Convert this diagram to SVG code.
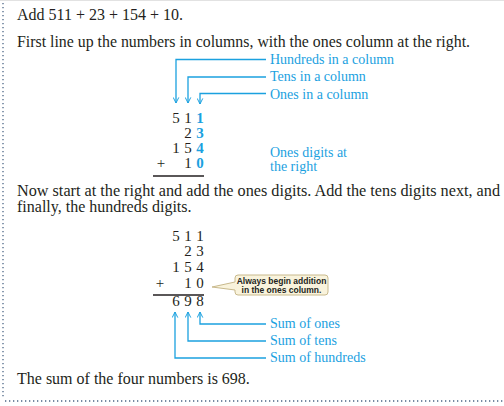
<svg xmlns="http://www.w3.org/2000/svg" width="504" height="406" viewBox="0 0 504 406">
<style>
.t{font-family:"Liberation Serif","Times New Roman",serif;font-size:16px;fill:#231f20}
.b{font-family:"Liberation Serif","Times New Roman",serif;font-size:14px;fill:#1ba1df}
.d{font-family:"Liberation Serif","Times New Roman",serif;font-size:15px;fill:#231f20;text-anchor:middle}
.db{font-family:"Liberation Serif","Times New Roman",serif;font-size:15px;fill:#1ba1df;text-anchor:middle;font-weight:bold}
.c{fill:none;stroke:#1ba1df;stroke-width:1.3}
.note{font-family:"Liberation Sans",Arial,sans-serif;font-size:8.5px;fill:#231f20;text-anchor:middle;font-weight:bold}
</style>
<defs>
<marker id="ah" viewBox="0 0 10 10" refX="9" refY="5" markerWidth="7" markerHeight="7" markerUnits="userSpaceOnUse" orient="auto">
<path d="M1,1 L9,5 L1,9" fill="none" stroke="#1ba1df" stroke-width="1.4"/>
</marker>
</defs>
<rect width="504" height="406" fill="#ffffff"/>
<line x1="0" y1="0.5" x2="504" y2="0.5" stroke="#e2e2e2" stroke-width="1"/>
<line x1="3" y1="3" x2="3" y2="397" stroke="#4b6585" stroke-width="1.3" stroke-dasharray="1.3 2.7"/>
<line x1="5" y1="401" x2="504" y2="401" stroke="#4b6585" stroke-width="1.3" stroke-dasharray="1.3 2.7"/>

<g id="intro">
<text class="t" x="17" y="20">Add 511 + 23 + 154 + 10.</text>
<text class="t" x="17" y="47" textLength="453" lengthAdjust="spacingAndGlyphs">First line up the numbers in columns, with the ones column at the right.</text>
</g>

<g id="problem1">
<text class="d" x="176" y="123">5</text><text class="d" x="188" y="123">1</text><text class="db" x="200" y="123">1</text>
<text class="d" x="188" y="138">2</text><text class="db" x="200" y="138">3</text>
<text class="d" x="176" y="153">1</text><text class="d" x="188" y="153">5</text><text class="db" x="200" y="153">4</text>
<text class="d" x="161" y="168">+</text><text class="d" x="188" y="168">1</text><text class="db" x="200" y="168">0</text>
<line x1="153" y1="176" x2="204" y2="176" stroke="#231f20" stroke-width="1.3"/>
</g>

<g id="labels1">
<text class="b" x="270" y="64">Hundreds in a column</text>
<text class="b" x="270" y="81">Tens in a column</text>
<text class="b" x="270" y="99">Ones in a column</text>
<text class="b" x="270" y="157">Ones digits at</text>
<text class="b" x="270" y="171">the right</text>
</g>

<g id="middle">
<text class="t" x="17" y="196" textLength="483" lengthAdjust="spacingAndGlyphs">Now start at the right and add the ones digits. Add the tens digits next, and</text>
<text class="t" x="17" y="212">finally, the hundreds digits.</text>
</g>

<g id="problem2">
<text class="d" x="176" y="241">5</text><text class="d" x="188" y="241">1</text><text class="d" x="200" y="241">1</text>
<text class="d" x="188" y="256">2</text><text class="d" x="200" y="256">3</text>
<text class="d" x="176" y="272">1</text><text class="d" x="188" y="272">5</text><text class="d" x="200" y="272">4</text>
<text class="d" x="160" y="288">+</text><text class="d" x="188" y="288">1</text><text class="d" x="200" y="288">0</text>
<line x1="153" y1="295" x2="204" y2="295" stroke="#231f20" stroke-width="1.3"/>
<text class="d" x="176" y="306">6</text><text class="d" x="188" y="306">9</text><text class="d" x="200" y="306">8</text>
</g>

<g id="callout">
<path d="M238,275 H325 Q328,275 328,278 V292 Q328,295 325,295 H238 Q235,295 235,292 V290 L212,287 L235,282 V278 Q235,275 238,275 Z" fill="#f9f3dc" stroke="#c8b98c" stroke-width="1"/>
<text class="note" x="281.5" y="284">Always begin addition</text>
<text class="note" x="281.5" y="293">in the ones column.</text>
</g>

<g id="labels2">
<text class="b" x="270" y="328">Sum of ones</text>
<text class="b" x="270" y="345">Sum of tens</text>
<text class="b" x="270" y="362">Sum of hundreds</text>
</g>

<g id="conclusion">
<text class="t" x="17" y="384">The sum of the four numbers is 698.</text>
</g>

<g id="connectors">
<path class="c" d="M266,59.5 H176 V103" marker-end="url(#ah)"/>
<path class="c" d="M266,77 H188 V103" marker-end="url(#ah)"/>
<path class="c" d="M266,93.5 H200 V104" marker-end="url(#ah)"/>
<path class="c" d="M266,324 H200 V312" marker-end="url(#ah)"/>
<path class="c" d="M266,341 H188 V312" marker-end="url(#ah)"/>
<path class="c" d="M266,358 H175 V312" marker-end="url(#ah)"/>
</g>
</svg>
